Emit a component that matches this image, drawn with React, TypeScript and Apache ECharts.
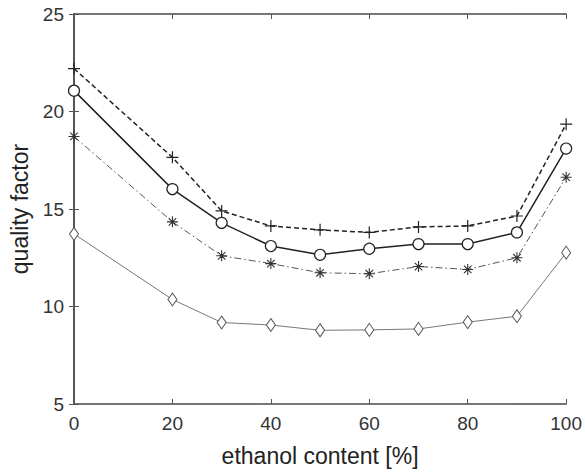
import React, { useEffect, useRef } from "react";
import * as echarts from "echarts";

const xValues = [0, 20, 30, 40, 50, 60, 70, 80, 90, 100];
const plusSeries = [22.2, 17.65, 14.9, 14.13, 13.93, 13.8, 14.08, 14.13, 14.64, 19.35];
const circleSeries = [21.07, 16.02, 14.29, 13.1, 12.65, 12.96, 13.2, 13.2, 13.8, 18.1];
const starSeries = [18.72, 14.34, 12.6, 12.2, 11.73, 11.68, 12.05, 11.9, 12.5, 16.63];
const diamondSeries = [13.72, 10.36, 9.18, 9.05, 8.78, 8.8, 8.85, 9.2, 9.5, 12.76];

const PLUS = "path://M5,0L5,10M0,5L10,5";
const STAR = "path://M5,0L5,10M0,5L10,5M1.6,1.6L8.4,8.4M1.6,8.4L8.4,1.6";

function pairs(ys: number[]) {
  return xValues.map((x, i) => [x, ys[i]]);
}

export default function App() {
  const ref = useRef<HTMLDivElement>(null);
  useEffect(() => {
    if (!ref.current) return;
    const chart = echarts.init(ref.current, null, { renderer: "svg" });
    const font = "'Liberation Sans', Arial, sans-serif";
    const axisLine = { show: true, lineStyle: { color: "#4a4a4a", width: 1.5 } };
    const tick = { show: true, inside: true, length: 5, lineStyle: { color: "#555", width: 1 } };
    chart.setOption({
      animation: false,
      backgroundColor: "#fff",
      grid: { left: 74, right: 13, top: 14, bottom: 66 },
      xAxis: [
        {
          type: "value",
          min: 0,
          max: 100,
          interval: 20,
          axisLine,
          axisTick: tick,
          splitLine: { show: false },
          axisLabel: { color: "#333", fontSize: 19, fontFamily: font, margin: 10 },
          name: "ethanol content [%]",
          nameLocation: "middle",
          nameGap: 40,
          nameTextStyle: { color: "#222", fontSize: 23, fontFamily: font },
        },
        {
          type: "value",
          position: "top",
          min: 0,
          max: 100,
          interval: 20,
          axisLine,
          axisTick: tick,
          splitLine: { show: false },
          axisLabel: { show: false },
        },
      ],
      yAxis: [
        {
          type: "value",
          min: 5,
          max: 25,
          interval: 5,
          axisLine,
          axisTick: tick,
          splitLine: { show: false },
          axisLabel: { color: "#333", fontSize: 19, fontFamily: font, margin: 10 },
          name: "quality factor",
          nameLocation: "middle",
          nameGap: 41,
          nameTextStyle: { color: "#222", fontSize: 23, fontFamily: font },
        },
        {
          type: "value",
          position: "right",
          min: 5,
          max: 25,
          interval: 5,
          axisLine,
          axisTick: tick,
          splitLine: { show: false },
          axisLabel: { show: false },
        },
      ],
      series: [
        {
          type: "line",
          data: pairs(plusSeries),
          symbol: PLUS,
          symbolSize: 12,
          lineStyle: { color: "#222", width: 1.5, type: [5, 3] },
          itemStyle: { color: "rgba(0,0,0,0)", borderColor: "#222", borderWidth: 1.2 },
        },
        {
          type: "line",
          data: pairs(circleSeries),
          symbol: "circle",
          symbolSize: 11,
          lineStyle: { color: "#222", width: 1.5 },
          itemStyle: { color: "#fff", borderColor: "#222", borderWidth: 1.2 },
        },
        {
          type: "line",
          data: pairs(starSeries),
          symbol: STAR,
          symbolSize: 11,
          lineStyle: { color: "#555", width: 1, type: [7, 3, 1.5, 3] },
          itemStyle: { color: "rgba(0,0,0,0)", borderColor: "#333", borderWidth: 1.1 },
        },
        {
          type: "line",
          data: pairs(diamondSeries),
          symbol: "diamond",
          symbolSize: [9, 13],
          lineStyle: { color: "#777", width: 1 },
          itemStyle: { color: "#fff", borderColor: "#555", borderWidth: 1 },
        },
      ],
    });
    return () => chart.dispose();
  }, []);
  return <div ref={ref} style={{ width: 585, height: 472, position: "absolute", left: 0, top: 0 }} />;
}
